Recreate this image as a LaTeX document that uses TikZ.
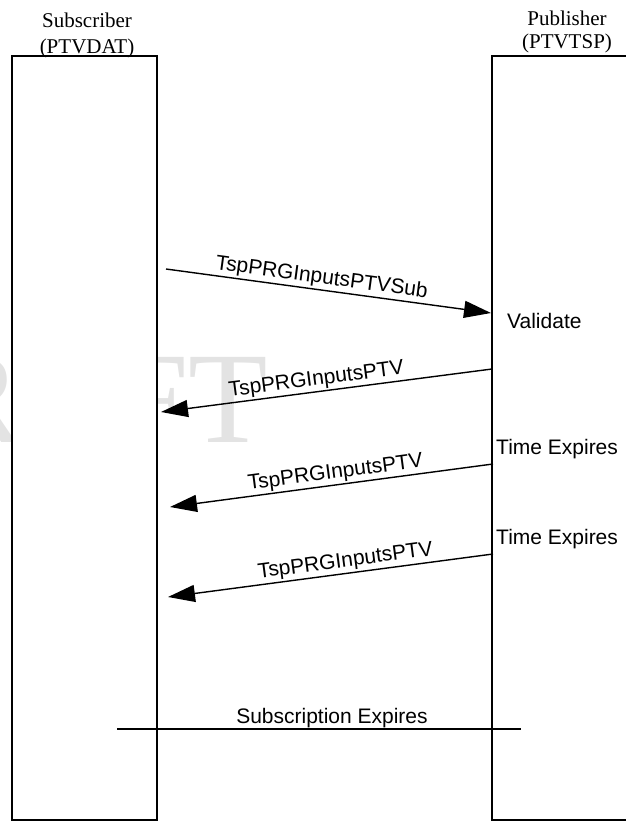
\documentclass[tikz,border=0pt]{standalone}
\usepackage{fontspec}
\setmainfont{Liberation Serif}
\newfontfamily\labelfont{Liberation Sans}
\usetikzlibrary{arrows.meta}

\tikzset{
  lifeline/.style={draw=black, line width=1.2pt, fill=white},
  title/.style={anchor=base, inner sep=0pt, font=\fontsize{21}{25}\selectfont},
  msg/.style={line width=1.4pt, -{Triangle[length=27pt, width=17pt]}},
  msglabel/.style={sloped, above, inner sep=1.5pt, font=\labelfont\fontsize{21}{25}\selectfont},
  note/.style={anchor=base west, inner sep=0pt, font=\labelfont\fontsize{21}{25}\selectfont},
  watermark/.style={anchor=base east, inner sep=0pt, text=black!11, font=\fontsize{130}{130}\selectfont}
}

\begin{document}
\begin{tikzpicture}[x=1pt, y=-1pt]
  \useasboundingbox (0,0) rectangle (626,822);

  % faint watermark behind the lifelines
  \node[watermark] (wm) at (268,442) {DRAFT};

  % lifeline boxes (the publisher box runs past the right edge)
  \draw[lifeline] (12,56) rectangle (157,820);
  \draw[lifeline] (492,56) rectangle (642,820);
  \coordinate (subR) at (157,56);
  \coordinate (pubL) at (492,56);

  % lifeline titles
  \node[title] (subname) at (87,27) {Subscriber};
  \node[title] (subid)   at (87,53) {(PTVDAT)};
  \node[title] (pubname) at (567,25) {Publisher};
  \node[title] (pubid)   at (567,48) {(PTVTSP)};

  % message end points
  \coordinate (m1a) at (166,269);  \coordinate (m1b) at (491,313);
  \coordinate (m2a) at (492,369);  \coordinate (m2b) at (161,412);
  \coordinate (m3a) at (493,464);  \coordinate (m3b) at (170,507);
  \coordinate (m4a) at (493,554);  \coordinate (m4b) at (168,597);

  % messages
  \draw[msg] (m1a) -- node[msglabel, pos=0.474] (l1) {TspPRGInputsPTVSub} (m1b);
  \draw[msg] (m2a) -- node[msglabel, pos=0.526] (l2) {TspPRGInputsPTV} (m2b);
  \draw[msg] (m3a) -- node[msglabel, pos=0.483] (l3) {TspPRGInputsPTV} (m3b);
  \draw[msg] (m4a) -- node[msglabel, pos=0.449] (l4) {TspPRGInputsPTV} (m4b);

  % publisher-side notes
  \node[note] (validate) at (507,328) {Validate};
  \node[note] (exp1) at (496,454) {Time Expires};
  \node[note] (exp2) at (496,544) {Time Expires};

  % subscription end marker
  \coordinate (endL) at (117,729);
  \coordinate (endR) at (521,729);
  \draw[line width=1.2pt] (endL) -- (endR);
  \node[anchor=base, inner sep=0pt, font=\labelfont\fontsize{21}{25}\selectfont] (subexp) at (332,723) {Subscription Expires};
\end{tikzpicture}
\end{document}
